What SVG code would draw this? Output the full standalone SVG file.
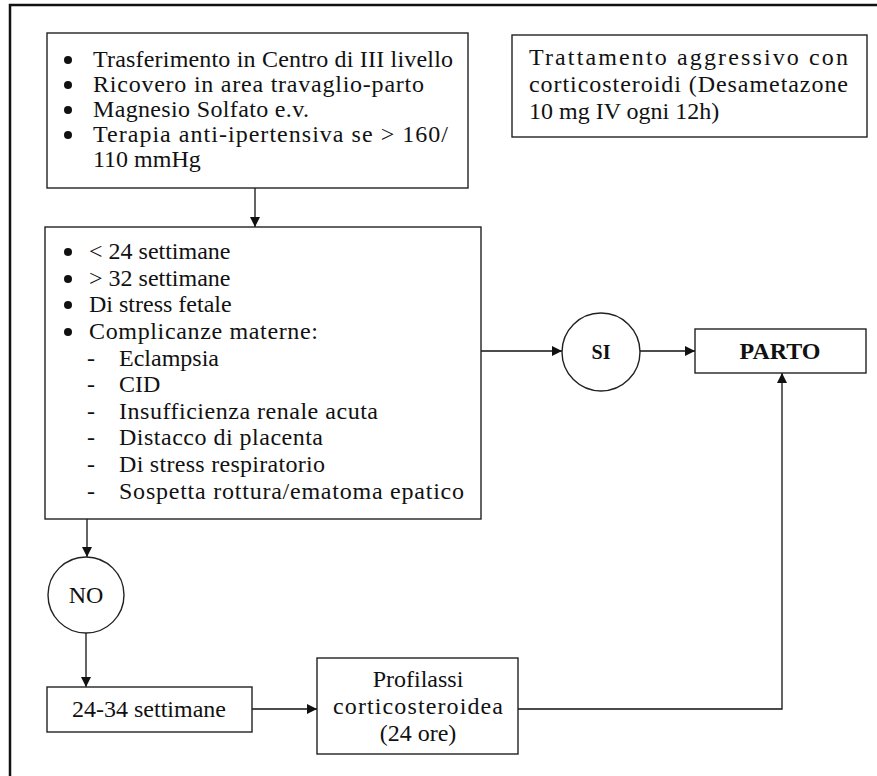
<svg xmlns="http://www.w3.org/2000/svg" width="877" height="776" viewBox="0 0 877 776">
<style>
  .box { fill: #ffffff; stroke: #222222; stroke-width: 1.4; }
  .t { font-family: "Liberation Serif", "DejaVu Serif", serif; font-size: 24px; fill: #111111; }
  .c { text-anchor: middle; }
  .b { font-weight: bold; }
  .bul { fill: #111111; }
  .conn { fill: none; stroke: #111111; stroke-width: 1.3; }
</style>
<defs>
  <marker id="arr" viewBox="0 0 10 10" refX="10" refY="5" markerWidth="10" markerHeight="10" markerUnits="userSpaceOnUse" orient="auto">
    <path d="M0,0 L10,5 L0,10 z" fill="#111111"/>
  </marker>
</defs>
<rect x="0" y="0" width="877" height="776" fill="#ffffff"/>
<rect x="10" y="5" width="900" height="800" fill="none" stroke="#111111" stroke-width="2.5"/>

<g id="connectors">
  <line class="conn" x1="255" y1="188" x2="255" y2="227" marker-end="url(#arr)"/>
  <line class="conn" x1="481" y1="351" x2="562" y2="351" marker-end="url(#arr)"/>
  <line class="conn" x1="640" y1="351" x2="695" y2="351" marker-end="url(#arr)"/>
  <line class="conn" x1="87" y1="519" x2="87" y2="557" marker-end="url(#arr)"/>
  <line class="conn" x1="86" y1="633" x2="86" y2="687" marker-end="url(#arr)"/>
  <line class="conn" x1="252" y1="709" x2="317" y2="709" marker-end="url(#arr)"/>
  <polyline class="conn" points="518,709 782,709 782,373" marker-end="url(#arr)"/>
</g>

<g id="box-gestione">
  <rect class="box" x="47" y="33" width="421" height="155"/>
  <circle class="bul" cx="68" cy="60" r="4"/>
  <circle class="bul" cx="68" cy="85" r="4"/>
  <circle class="bul" cx="68" cy="110" r="4"/>
  <circle class="bul" cx="68" cy="135" r="4"/>
  <text class="t" x="93" y="67" textLength="360" lengthAdjust="spacing">Trasferimento in Centro di III livello</text>
  <text class="t" x="93" y="92" textLength="331" lengthAdjust="spacing">Ricovero in area travaglio-parto</text>
  <text class="t" x="93" y="117" textLength="216" lengthAdjust="spacing">Magnesio Solfato e.v.</text>
  <text class="t" x="93" y="142" textLength="355" lengthAdjust="spacing">Terapia anti-ipertensiva se &gt; 160/</text>
  <text class="t" x="93" y="167">110 mmHg</text>
</g>

<g id="box-trattamento">
  <rect class="box" x="512" y="35" width="355" height="102"/>
  <text class="t" x="529" y="65" textLength="319" lengthAdjust="spacing">Trattamento aggressivo con</text>
  <text class="t" x="529" y="92" textLength="319" lengthAdjust="spacing">corticosteroidi (Desametazone</text>
  <text class="t" x="529" y="119">10 mg IV ogni 12h)</text>
</g>

<g id="box-criteri">
  <rect class="box" x="45" y="227" width="436" height="292"/>
  <circle class="bul" cx="68" cy="252" r="4"/>
  <circle class="bul" cx="68" cy="279" r="4"/>
  <circle class="bul" cx="68" cy="305" r="4"/>
  <circle class="bul" cx="68" cy="332" r="4"/>
  <text class="t" x="89" y="259">&lt; 24 settimane</text>
  <text class="t" x="89" y="286">&gt; 32 settimane</text>
  <text class="t" x="89" y="312">Di stress fetale</text>
  <text class="t" x="89" y="339" textLength="229" lengthAdjust="spacing">Complicanze materne:</text>
  <text class="t c" x="91" y="366">-</text>
  <text class="t c" x="91" y="392">-</text>
  <text class="t c" x="91" y="419">-</text>
  <text class="t c" x="91" y="445">-</text>
  <text class="t c" x="91" y="472">-</text>
  <text class="t c" x="91" y="499">-</text>
  <text class="t" x="119" y="366">Eclampsia</text>
  <text class="t" x="119" y="392">CID</text>
  <text class="t" x="119" y="419" textLength="259" lengthAdjust="spacing">Insufficienza renale acuta</text>
  <text class="t" x="119" y="445" textLength="204" lengthAdjust="spacing">Distacco di placenta</text>
  <text class="t" x="119" y="472" textLength="206" lengthAdjust="spacing">Di stress respiratorio</text>
  <text class="t" x="119" y="499" textLength="345" lengthAdjust="spacing">Sospetta rottura/ematoma epatico</text>
</g>

<g id="node-si">
  <circle class="box" cx="601" cy="352" r="39"/>
  <text class="t c b" x="601" y="359" style="font-size:20px">SI</text>
</g>

<g id="node-parto">
  <rect class="box" x="695" y="329" width="171" height="44"/>
  <text class="t c b" x="780" y="359">PARTO</text>
</g>

<g id="node-no">
  <circle class="box" cx="86" cy="595" r="38"/>
  <text class="t c" x="86" y="603">NO</text>
</g>

<g id="box-settimane">
  <rect class="box" x="47" y="687" width="205" height="45"/>
  <text class="t c" x="149" y="717">24-34 settimane</text>
</g>

<g id="box-profilassi">
  <rect class="box" x="317" y="658" width="201" height="96"/>
  <text class="t c" x="418" y="687">Profilassi</text>
  <text class="t c" x="418" y="714" textLength="170" lengthAdjust="spacing">corticosteroidea</text>
  <text class="t c" x="418" y="741">(24 ore)</text>
</g>
</svg>
